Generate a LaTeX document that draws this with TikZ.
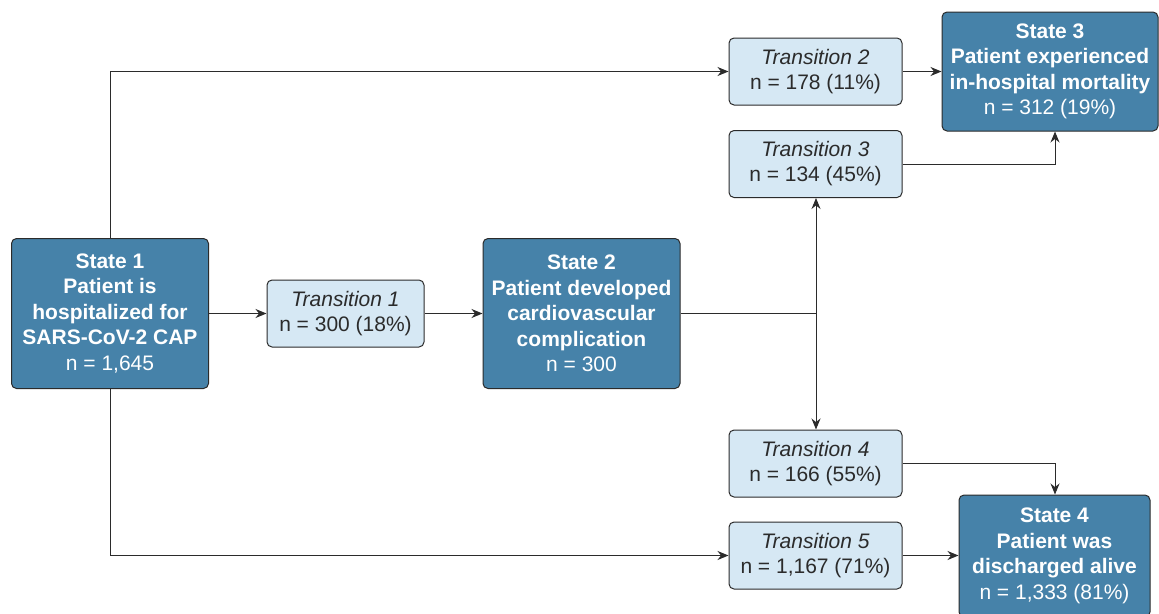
\documentclass[tikz,border=0pt]{standalone}
\usepackage{fontspec}
\setmainfont{Liberation Sans}
\usetikzlibrary{arrows.meta}
\definecolor{darkfill}{HTML}{4682A9}
\definecolor{lightfill}{HTML}{D6E8F4}
\definecolor{edgecol}{HTML}{2B2B2B}
\begin{document}
\begin{tikzpicture}[x=1pt,y=-1pt,
 statebox/.style={draw=edgecol, line width=1pt, fill=darkfill, rounded corners=5pt, text=white, align=center, font=\fontsize{21}{25.5}\selectfont\bfseries, inner sep=0pt},
 transbox/.style={draw=edgecol, line width=1pt, fill=lightfill, rounded corners=5pt, text=edgecol, align=center, font=\fontsize{21}{25}\selectfont, inner sep=0pt, minimum width=173pt, minimum height=67pt},
 conn/.style={draw=edgecol, line width=1pt, -{Stealth[length=11pt,width=9pt]}},
 plain/.style={draw=edgecol, line width=1pt}]
\useasboundingbox (0,0) rectangle (1159,613);
\node[statebox, minimum width=197pt, minimum height=150pt] (s1) at (110,313.5) {State 1\\Patient is\\hospitalized for\\SARS-CoV-2 CAP\\\mdseries n = 1,645};
\node[transbox, minimum width=157pt] (t1) at (345.5,313.5) {\itshape Transition 1\\n = 300 (18\%)};
\node[statebox, minimum width=197pt, minimum height=150pt] (s2) at (581.5,313.5) {State 2\\Patient developed\\cardiovascular\\complication\\\mdseries n = 300};
\node[transbox] (t2) at (815.5,71.5) {\itshape Transition 2\\n = 178 (11\%)};
\node[transbox] (t3) at (815.5,164) {\itshape Transition 3\\n = 134 (45\%)};
\node[transbox] (t4) at (815.5,463.5) {\itshape Transition 4\\n = 166 (55\%)};
\node[transbox] (t5) at (815.5,555.5) {\itshape Transition 5\\n = 1,167 (71\%)};
\node[statebox, minimum width=216pt, minimum height=119pt] (s3) at (1050,71.5) {State 3\\Patient experienced\\in-hospital mortality\\\mdseries n = 312 (19\%)};
\node[statebox, minimum width=191pt, minimum height=122pt] (s4) at (1054.5,556) {State 4\\Patient was\\discharged alive\\\mdseries n = 1,333 (81\%)};
\coordinate (j) at (816,313.5);
\coordinate (ax) at (1055,0);
\draw[conn] (s1.east) -- (t1.west);
\draw[conn] (t1.east) -- (s2.west);
\draw[plain] (s2.east) -- (j);
\draw[conn] (j) -- (j |- t3.south);
\draw[conn] (j) -- (j |- t4.north);
\draw[conn] (s1.north) |- (t2.west);
\draw[conn] (s1.south) |- (t5.west);
\draw[conn] (t2.east) -- (s3.west |- t2.east);
\draw[conn] (t5.east) -- (s4.west |- t5.east);
\draw[conn] (t3.east) -| (ax |- s3.south);
\draw[conn] (t4.east) -| (ax |- s4.north);
\end{tikzpicture}
\end{document}
